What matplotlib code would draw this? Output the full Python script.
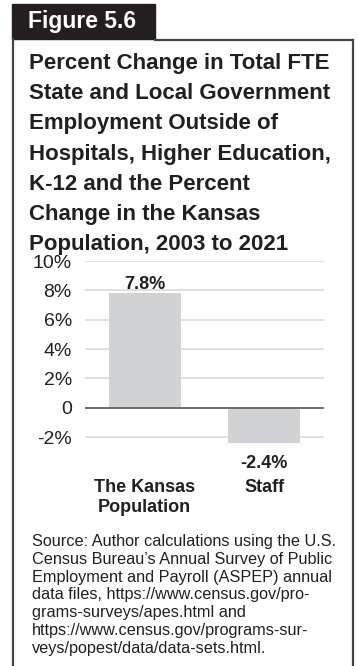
import matplotlib
matplotlib.use("Agg")
import matplotlib.pyplot as plt
from matplotlib.patches import Rectangle
from matplotlib.lines import Line2D
from matplotlib.transforms import blended_transform_factory

plt.rcParams['font.family'] = ['Liberation Sans', 'DejaVu Sans']

# data
categories = ['The Kansas\nPopulation', 'Staff']
values = [7.8, -2.4]
value_labels = ['7.8%', '-2.4%']
yticks = [-2, 0, 2, 4, 6, 8, 10]
ytick_labels = ['-2%', '0', '2%', '4%', '6%', '8%', '10%']

title_lines = [
    'Percent Change in Total FTE',
    'State and Local Government',
    'Employment Outside of',
    'Hospitals, Higher Education,',
    'K-12 and the Percent',
    'Change in the Kansas',
    'Population, 2003 to 2021',
]
source_lines = [
    'Source: Author calculations using the U.S.',
    'Census Bureau\u2019s Annual Survey of Public',
    'Employment and Payroll (ASPEP) annual',
    'data files, https://www.census.gov/pro-',
    'grams-surveys/apes.html and',
    'https://www.census.gov/programs-sur-',
    'veys/popest/data/data-sets.html.',
]

W, H = 357, 666
fig = plt.figure(figsize=(W / 100, H / 100), dpi=100)
dark = '#231f20'

def fx(px):
    return px / W

def fy(py):
    return 1 - py / H

# header tab and frame
fig.patches.append(Rectangle((fx(12), fy(39)), fx(155) - fx(12), fy(4) - fy(39),
                             transform=fig.transFigure, color=dark, zorder=1))
frame_kw = dict(transform=fig.transFigure, color='#444444', lw=1.6, zorder=2)
fig.lines.append(Line2D([fx(12.5), fx(12.5)], [fy(39), fy(666)], **frame_kw))
fig.lines.append(Line2D([fx(352.5), fx(352.5)], [fy(39.5), fy(666)], **frame_kw))
fig.lines.append(Line2D([fx(155), fx(352.5)], [fy(39.5), fy(39.5)], **frame_kw))

fig.text(fx(28), fy(28), 'Figure 5.6', color='white', fontsize=16.5,
         fontweight='bold', va='baseline', ha='left', zorder=3)

for i, line in enumerate(title_lines):
    fig.text(fx(29), fy(69 + i * 30.2), line, fontsize=16, fontweight='bold',
             color=dark, va='baseline', ha='left')

for i, line in enumerate(source_lines):
    fig.text(fx(32), fy(546 + i * 17.8), line, fontsize=11.7,
             color=dark, va='baseline', ha='left')

# chart area
ymin, ymax = -3, 10
px_top = 261
px_per_unit = (407.7 - 261) / 10
px_bottom = px_top + (ymax - ymin) * px_per_unit
ax = fig.add_axes([fx(85), fy(px_bottom), fx(324) - fx(85), fy(px_top) - fy(px_bottom)])

x = list(range(len(categories)))
ax.bar(x, values, width=0.6, color='#d1d2d4', zorder=2)
ax.set_xlim(-0.5, 1.5)
ax.set_ylim(ymin, ymax)
ax.set_yticks(yticks)
ax.set_yticklabels(ytick_labels, fontsize=14, color=dark)
ax.tick_params(axis='y', length=0, pad=9.5)
ax.set_xticks([])
for t in yticks:
    if t != 0:
        ax.axhline(t, color='#d9d9d9', lw=1.2, zorder=1)
ax.axhline(0, color='#6d6e71', lw=1.4, zorder=3)
for s in ax.spines.values():
    s.set_visible(False)

for xi, v, lab in zip(x, values, value_labels):
    if v >= 0:
        ax.annotate(lab, (xi, v), xytext=(0, 3), textcoords='offset points',
                    ha='center', va='baseline', fontsize=13, fontweight='bold', color=dark)
    else:
        ax.annotate(lab, (xi, v), xytext=(0, -8.5), textcoords='offset points',
                    ha='center', va='top', fontsize=13, fontweight='bold', color=dark)

# category names under the plot, one line at a time
trans = blended_transform_factory(ax.transData, fig.transFigure)
for xi, cat in zip(x, categories):
    for j, part in enumerate(cat.split('\n')):
        ax.text(xi, fy(492 + j * 20), part, transform=trans, ha='center',
                va='baseline', fontsize=13, fontweight='bold', color=dark)

fig.savefig('out.png', dpi=100)
